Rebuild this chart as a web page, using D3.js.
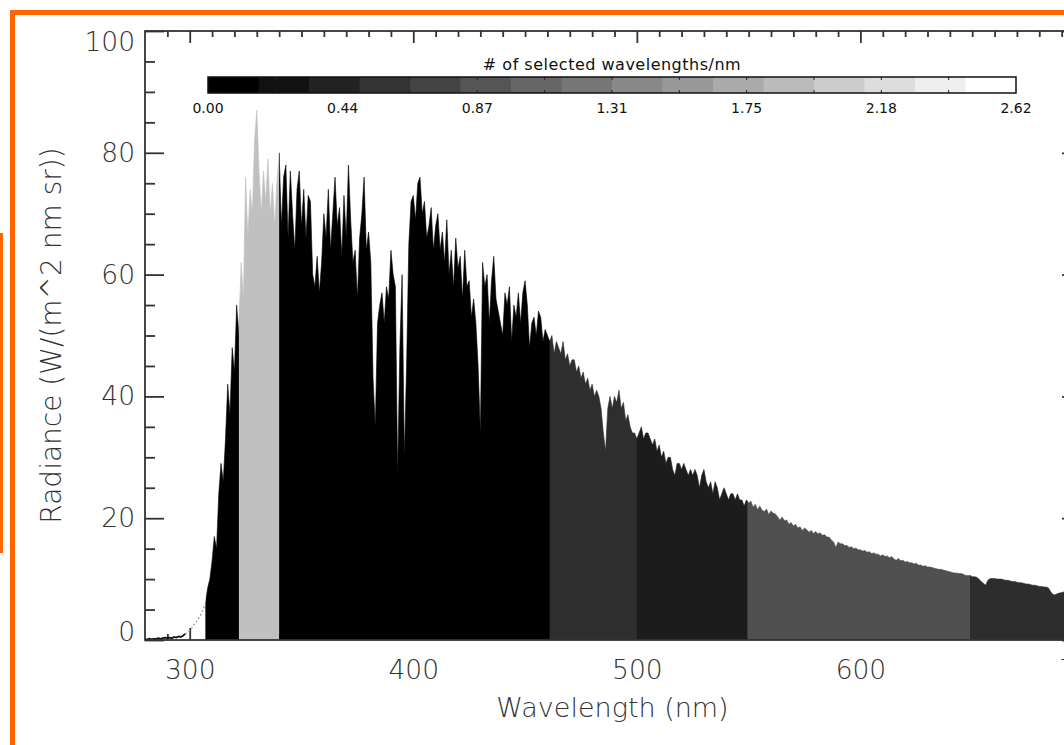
<!DOCTYPE html>
<html>
<head>
<meta charset="utf-8">
<script src="https://cdn.jsdelivr.net/npm/d3@7"></script>
<style>
  body { margin: 0; background: #fff; }
  svg { display: block; font-family: "DejaVu Sans", sans-serif; }
</style>
</head>
<body>
<div id="chart"></div>
<script>
// spectrum sampled every 1 nm, first sample at 280 nm
const wlStart = 280;
const radiance = [
  0.1, 0.1, 0.2, 0.1, 0.2, 0.2, 0.3, 0.2, 0.3, 0.4,
  0.3, 0.4, 0.3, 0.5, 0.4, 0.6, 0.5, 0.7, 1.0, 1.2,
  1.6, 2.0, 2.6, 3.0, 3.6, 4.2, 5.0, 6.0, 8.5, 10,
  13, 17, 15, 24, 29, 26, 33, 42, 37, 48,
  44, 55, 50, 62, 56, 76, 66, 74, 70, 82,
  87, 77, 70, 77, 72, 79, 70, 75, 68, 75,
  80, 68, 76, 78, 66, 77, 70, 64, 74, 77,
  68, 74, 66, 73, 72, 60, 58, 63, 57, 62,
  70, 66, 74, 64, 70, 76, 68, 71, 63, 73,
  66, 78, 69, 62, 64, 56, 66, 70, 76, 64,
  67, 62, 43, 35, 52, 55, 57, 52, 58, 56,
  64, 60, 58, 27, 48, 60, 30, 45, 65, 72,
  73, 69, 75, 76, 70, 72, 66, 68, 71, 64,
  68, 70, 64, 67, 62, 69, 60, 64, 58, 66,
  61, 63, 56, 64, 58, 59, 53, 56, 52, 45,
  34, 62, 58, 60, 52, 59, 63, 56, 54, 52,
  50, 57, 55, 58, 49, 55, 53, 57, 52, 57,
  59, 55, 48, 52, 53, 50, 54, 53, 49, 51,
  50, 49, 50, 47, 49, 48, 47, 49, 46, 47,
  45, 46, 46, 44, 45, 43, 44, 42, 43, 41,
  42, 40, 41, 40, 38, 34, 31, 38, 40, 38,
  40, 39, 41, 38, 39, 36, 37, 35, 34, 34,
  33, 34, 35, 33, 34, 34, 33, 32, 33, 31,
  32, 30, 31, 29, 30, 30, 28, 27, 29, 29,
  28, 29, 28, 27, 28, 27, 28, 27, 25, 27,
  28, 26, 25, 26, 24, 26, 25, 23, 24, 25,
  24, 23, 24, 24, 23, 24, 23, 23, 22, 23,
  22.5, 22.8, 21.8, 22.3, 21.4, 22, 21.3, 21.1, 21.5, 20.6,
  21.2, 20.8, 20.7, 20.2, 19.7, 20.2, 19.6, 19.7, 19, 19.3,
  18.7, 19, 18.4, 18.6, 18, 18.4, 18.1, 17.7, 18, 17.5,
  17.8, 17.4, 17.6, 17.2, 17.3, 16.9, 16.9, 16.4, 16.1, 15.2,
  16.1, 15.8, 15.8, 15.5, 15.5, 15.2, 15.3, 15, 15.1, 14.8,
  14.8, 14.6, 14.7, 14.4, 14.5, 14.2, 14.3, 14.1, 14.1, 13.8,
  14, 13.7, 13.8, 13.5, 13.7, 13.3, 13.1, 13.4, 13, 13.1,
  12.8, 12.9, 12.7, 12.7, 12.5, 12.6, 12.3, 12.3, 12.1, 12.2,
  12, 12, 11.9, 11.8, 11.7, 11.6, 11.6, 11.5, 11.4, 11.3,
  11.2, 11.1, 11, 11, 10.9, 10.9, 10.8, 10.6, 10.6, 10.6,
  10.4, 10.4, 10.3, 10, 9.6, 9.3, 9.0, 9.8, 10.1, 10.1,
  10.1, 10, 10, 10, 9.9, 9.8, 9.8, 9.7, 9.6, 9.6,
  9.5, 9.4, 9.4, 9.3, 9.2, 9.2, 9.1, 9.0, 9.0, 8.9,
  8.8, 8.8, 8.7, 8.7, 8.6, 8.0, 7.5, 7.4, 7.6, 7.7,
  7.8, 7.9, 8.0, 8.0, 8.0, 7.9, 7.9, 7.8, 7.8, 7.7, 7.7
];

// wavelength bands and their grey level (selection density)
const bandEdges = [307, 322, 340, 461, 500, 549.5, 649, 700];
const bandGreys = ["#000000", "#c0c0c0", "#000000", "#2e2e2e", "#1c1c1c", "#505050", "#2d2d2d"];
const lowEnd = 298;     // flat black part ends here, dotted grey up to first band

const xMajor = [300, 400, 500, 600, 700];
const xMinor = [290, 310, 320, 330, 340, 350, 360, 370, 380, 390, 410, 420, 430, 440, 450, 460, 470, 480, 490,
  510, 520, 530, 540, 550, 560, 570, 580, 590, 610, 620, 630, 640, 650, 660, 670, 680, 690];
const yMajor = [0, 20, 40, 60, 80, 100];
const yMinor = [5, 10, 15, 25, 30, 35, 45, 50, 55, 65, 70, 75, 85, 90, 95];

const cbarTitle = "# of selected wavelengths/nm";
const cbarLabels = ["0.00", "0.44", "0.87", "1.31", "1.75", "2.18", "2.62"];
const cbarLevels = 16;

const width = 1064, height = 745;
const plot = { left: 145, right: 1084, top: 31, bottom: 640 };
const axisColor = "#333";
const orange = "#ff6600";

const svg = d3.select("#chart").append("svg")
  .attr("width", width)
  .attr("height", height);

// orange frame bits
svg.append("rect").attr("x", 10).attr("y", 10).attr("width", width - 10).attr("height", 5).attr("fill", orange);
svg.append("rect").attr("x", 10).attr("y", 10).attr("width", 5).attr("height", height - 10).attr("fill", orange);
svg.append("rect").attr("x", 0).attr("y", 233).attr("width", 3).attr("height", 320).attr("fill", orange);

const x = d3.scaleLinear().domain([280, 700]).range([plot.left, plot.right]);
const y = d3.scaleLinear().domain([0, 100]).range([plot.bottom, plot.top]);

const pts = radiance.map((v, i) => ({ wl: wlStart + i, v }));

// ticks (inward, drawn under the fill)
const axes = svg.append("g").attr("color", axisColor).attr("stroke-width", 1.8);

function tickAxis(axis, transform) {
  const g = axes.append("g").attr("transform", transform).call(axis);
  g.select(".domain").remove();
  g.selectAll("line").attr("stroke-width", 1.8);
  return g;
}

const xb = tickAxis(d3.axisBottom(x).tickValues(xMajor).tickSize(-12).tickPadding(20).tickFormat(d3.format("d")),
  `translate(0,${plot.bottom})`);
tickAxis(d3.axisBottom(x).tickValues(xMinor).tickSize(-6).tickFormat(""), `translate(0,${plot.bottom})`);
tickAxis(d3.axisTop(x).tickValues(xMajor).tickSize(-12).tickFormat(""), `translate(0,${plot.top})`);
tickAxis(d3.axisTop(x).tickValues(xMinor).tickSize(-6).tickFormat(""), `translate(0,${plot.top})`);

const yl = tickAxis(d3.axisLeft(y).tickValues(yMajor).tickSize(-19).tickPadding(10).tickFormat(d3.format("d")),
  `translate(${plot.left},0)`);
tickAxis(d3.axisLeft(y).tickValues(yMinor).tickSize(-10).tickFormat(""), `translate(${plot.left},0)`);
tickAxis(d3.axisRight(y).tickValues(yMajor).tickSize(-22).tickFormat(""), `translate(${plot.right},0)`);
tickAxis(d3.axisRight(y).tickValues(yMinor).tickSize(-10).tickFormat(""), `translate(${plot.right},0)`);

[xb, yl].forEach(g => g.selectAll("text")
  .attr("font-size", 26.5)
  .attr("font-family", "DejaVu Sans, sans-serif")
  .attr("font-weight", 300)
  .attr("fill", axisColor));
// end labels kept inside the frame
yl.selectAll("text").attr("dy", d => d === 100 ? "0.73em" : d === 0 ? "0em" : "0.32em");

// spectrum
const defs = svg.append("defs");
defs.append("clipPath").attr("id", "plotclip").append("rect")
  .attr("x", plot.left).attr("y", plot.top)
  .attr("width", plot.right - plot.left).attr("height", plot.bottom - plot.top);

const area = d3.area()
  .x(d => x(d.wl))
  .y0(plot.bottom)
  .y1(d => y(d.v));

const spec = svg.append("g").attr("clip-path", "url(#plotclip)");
const inBand = pts.filter(d => d.wl >= bandEdges[0] - 1);

bandGreys.forEach((c, i) => {
  const id = "band" + i;
  const x0 = x(bandEdges[i]);
  const x1 = x(bandEdges[i + 1]);
  defs.append("clipPath").attr("id", id).append("rect")
    .attr("x", x0).attr("y", 0)
    .attr("width", x1 - x0 + (i < bandGreys.length - 1 ? 0.4 : 20)).attr("height", height);
  spec.append("g").attr("clip-path", `url(#${id})`)
    .append("path")
    .datum(inBand)
    .attr("d", area)
    .attr("fill", c)
    .attr("stroke", c)
    .attr("stroke-width", 0.6);
});

const line = d3.line().x(d => x(d.wl)).y(d => y(d.v));
spec.append("path")
  .datum(pts.filter(d => d.wl <= lowEnd))
  .attr("d", line)
  .attr("fill", "none")
  .attr("stroke", "#111")
  .attr("stroke-width", 1.8);
spec.append("path")
  .datum(pts.filter(d => d.wl >= lowEnd && d.wl <= bandEdges[0]))
  .attr("d", line)
  .attr("fill", "none")
  .attr("stroke", "#9a9a9a")
  .attr("stroke-width", 1.3)
  .attr("stroke-dasharray", "2,2");

// frame on top
svg.append("rect")
  .attr("x", plot.left).attr("y", plot.top)
  .attr("width", plot.right - plot.left).attr("height", plot.bottom - plot.top)
  .attr("fill", "none")
  .attr("stroke", axisColor)
  .attr("stroke-width", 1.8);

// axis titles
svg.append("text")
  .attr("x", (plot.left + plot.right) / 2 - 2)
  .attr("y", 717)
  .attr("text-anchor", "middle")
  .attr("font-size", 27)
  .attr("font-weight", 300)
  .attr("fill", axisColor)
  .text("Wavelength (nm)");

svg.append("text")
  .attr("transform", `translate(61,${(plot.top + plot.bottom) / 2}) rotate(-90)`)
  .attr("text-anchor", "middle")
  .attr("font-size", 28)
  .attr("font-weight", 300)
  .attr("fill", axisColor)
  .text("Radiance (W/(m^2 nm sr))");

// colour bar
const cb = { left: 208, right: 1016, top: 77, bottom: 93 };
const cbx = d3.scaleLinear().domain([0, cbarLevels]).range([cb.left, cb.right]);
const cbg = svg.append("g");

cbg.selectAll("rect.seg")
  .data(d3.range(cbarLevels))
  .join("rect")
  .attr("class", "seg")
  .attr("x", d => cbx(d))
  .attr("y", cb.top)
  .attr("width", d => cbx(d + 1) - cbx(d) + 0.5)
  .attr("height", cb.bottom - cb.top)
  .attr("fill", d => d3.rgb(d * 17, d * 17, d * 17));

const cbt = d3.scaleLinear().domain([0, cbarLabels.length - 1]).range([cb.left, cb.right]);
const minorCount = (cbarLabels.length - 1) * 2;
const tickPos = d3.range(1, minorCount).map(i => cb.left + (cb.right - cb.left) * i / minorCount);

cbg.selectAll("line.tt")
  .data(tickPos)
  .join("line")
  .attr("x1", d => d).attr("x2", d => d)
  .attr("y1", cb.top).attr("y2", cb.top + 3)
  .attr("stroke", "#222").attr("stroke-width", 1);
cbg.selectAll("line.tb")
  .data(tickPos)
  .join("line")
  .attr("x1", d => d).attr("x2", d => d)
  .attr("y1", cb.bottom - 3).attr("y2", cb.bottom)
  .attr("stroke", "#222").attr("stroke-width", 1);

cbg.append("rect")
  .attr("x", cb.left).attr("y", cb.top)
  .attr("width", cb.right - cb.left).attr("height", cb.bottom - cb.top)
  .attr("fill", "none")
  .attr("stroke", "#111")
  .attr("stroke-width", 1.5);

cbg.selectAll("text.lab")
  .data(cbarLabels)
  .join("text")
  .attr("x", (d, i) => cbt(i))
  .attr("y", 113)
  .attr("text-anchor", "middle")
  .attr("font-size", 14)
  .attr("fill", "#111")
  .text(d => d);

cbg.append("text")
  .attr("x", (cb.left + cb.right) / 2)
  .attr("y", 70)
  .attr("text-anchor", "middle")
  .attr("font-size", 16)
  .attr("letter-spacing", 0.5)
  .attr("fill", "#111")
  .text(cbarTitle);
</script>
</body>
</html>
